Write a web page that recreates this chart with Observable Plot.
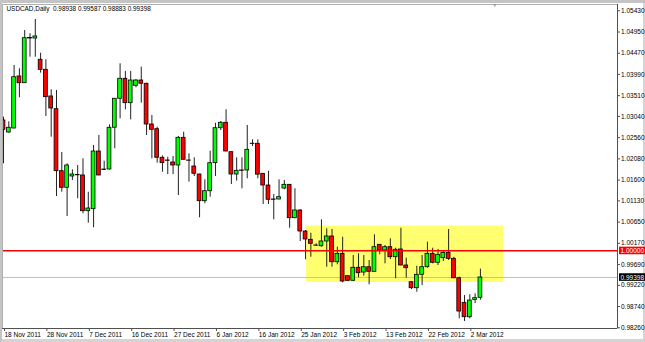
<!DOCTYPE html>
<html><head><meta charset="utf-8">
<script src="https://cdn.jsdelivr.net/npm/d3@7"></script>
<script src="https://cdn.jsdelivr.net/npm/@observablehq/plot@0.6"></script>
<style>
html,body{margin:0;padding:0;background:#fff;}
#chart svg{display:block;box-shadow: inset 2px 3px 0 #c4c4c4, inset -2px -3px 0 #d4d4d4;}
</style></head><body><div id="chart"></div>
<script>
const symbolName = "USDCAD,Daily";
const opens = [1.02949,1.02677,1.02768,1.03944,1.03792,1.04815,1.04803,1.04322,1.04095,1.03492,
1.03204,1.01802,1.01426,1.01682,1.01716,1.01705,1.00897,1.00942,1.02247,1.01840,
1.01840,1.02784,1.03440,1.03892,1.03340,1.03734,1.03853,1.03779,1.02858,1.02752,
1.02105,1.02044,1.01999,1.01931,1.02557,1.02044,1.01908,1.01727,1.01123,1.01349,
1.01983,1.02774,1.02897,1.02232,1.01727,1.01818,1.01818,1.02417,1.02422,1.01743,
1.01478,1.01162,1.01162,1.01410,1.01494,1.00739,1.00913,1.00438,1.00250,1.00121,
1.00105,1.00212,1.00325,0.99743,0.99933,0.99427,0.99323,0.99617,0.99510,0.99630,
0.99526,1.00137,1.00008,1.00083,0.99856,1.00031,0.99669,0.99291,0.99155,0.99458,
0.99630,0.99933,0.99730,0.99834,0.99956,0.99820,0.99381,0.98825,0.98499,0.98890,
0.98938];
const highs = [1.03023,1.02919,1.04193,1.04118,1.04984,1.04910,1.05233,1.04471,1.04322,1.03643,
1.03627,1.02225,1.01969,1.01833,1.01931,1.02082,1.01327,1.02383,1.02609,1.02028,
1.02851,1.03446,1.04231,1.04057,1.04057,1.03876,1.04154,1.03792,1.03062,1.02797,
1.02146,1.02118,1.02134,1.02587,1.02684,1.02195,1.02105,1.01734,1.01607,1.02254,
1.02887,1.02926,1.03191,1.02236,1.02105,1.02105,1.02836,1.02512,1.02512,1.01750,
1.01802,1.01275,1.01607,1.01591,1.01501,1.01404,1.00929,1.00460,1.00399,1.00160,
1.00702,1.00499,1.00483,1.00083,1.00309,0.99443,0.99895,0.99933,0.99895,0.99782,
1.00363,1.00144,1.00121,1.00273,1.00060,1.00512,0.99834,0.99307,0.99653,0.99895,
1.00196,1.00060,1.00031,0.99985,1.00483,0.99856,0.99404,0.98990,0.99006,0.99029,
0.99587];
const lows = [1.01969,1.02661,1.02757,1.03462,1.03786,1.04380,1.04380,1.04019,1.03039,1.02571,
1.01230,1.01327,1.00777,1.01591,1.01178,1.00838,1.00626,1.00522,1.01698,1.01818,
1.01833,1.02309,1.02987,1.03191,1.02964,1.03688,1.03340,1.02609,1.02082,1.01983,
1.01779,1.01724,1.01724,1.01252,1.02055,1.01553,1.01682,1.00748,1.01064,1.01214,
1.01682,1.02722,1.02241,1.01501,1.01576,1.01404,1.01630,1.02361,1.01630,1.01049,
1.01049,1.00702,1.01155,1.01381,1.00512,1.00725,1.00212,0.99798,0.99856,1.00099,
1.00083,0.99630,0.99630,0.99685,0.99277,0.99307,0.99307,0.99390,0.99427,0.99232,
0.99521,0.99911,0.99707,0.99804,0.99368,0.99662,0.99381,0.99126,0.99065,0.99216,
0.99608,0.99707,0.99669,0.99759,0.99782,0.99368,0.98463,0.98402,0.98463,0.98806,
0.98883];
const closes = [1.02738,1.02784,1.03928,1.03792,1.04810,1.04803,1.04849,1.04095,1.03476,1.03220,
1.01802,1.01426,1.01931,1.01727,1.01709,1.00897,1.00958,1.02247,1.01705,1.01829,
1.02784,1.03440,1.03892,1.03340,1.03853,1.03853,1.03779,1.02858,1.02738,1.02105,
1.01983,1.02037,1.01931,1.02557,1.02060,1.02039,1.01743,1.01123,1.01349,1.01983,
1.02774,1.02897,1.02247,1.01727,1.01811,1.01811,1.02286,1.02424,1.01724,1.01478,
1.01155,1.01155,1.01214,1.01494,1.00739,1.00913,1.00438,1.00257,1.00160,1.00117,
1.00212,1.00325,0.99743,0.99933,0.99307,0.99323,0.99617,0.99495,0.99630,0.99526,
1.00083,1.00008,1.00083,0.99856,1.00024,0.99669,0.99608,0.99155,0.99458,0.99630,
0.99933,0.99730,0.99911,0.99956,0.99820,0.99381,0.98628,0.98499,0.98877,0.98930,
0.99398];
const xTickBars = [0,8,16,24,32,40,48,56,64,72,80,88];
const xTickLabels = ["18 Nov 2011","28 Nov 2011","7 Dec 2011","16 Dec 2011","27 Dec 2011","6 Jan 2012","16 Jan 2012","25 Jan 2012","3 Feb 2012","13 Feb 2012","22 Feb 2012","2 Mar 2012"];
const yTicks = [1.05430,1.04950,1.04470,1.03990,1.03510,1.03040,1.02560,1.02080,1.01600,1.01130,1.00650,1.00170,0.99690,0.99220,0.98740,0.98260];
const levelLine = [1.00000];
const bidLine = [0.99398];
const zoneBars = [57.2, 94.4];
const zonePrices = [0.99284, 1.00558];
const shiftMarkerBar = [92.7];

const candles = opens.map((o, i) => ({i, open: o, high: highs[i], low: lows[i], close: closes[i]}));
const last = candles[candles.length - 1];
const header = `${symbolName}\u00a0 ${last.open.toFixed(5)} ${last.high.toFixed(5)} ${last.low.toFixed(5)} ${last.close.toFixed(5)}`;
const xDomain = [-0.19, 115.87];
const yDomain = [0.98244, 1.05572];
const font = "'Liberation Sans', Arial, sans-serif";

const chart = Plot.plot({
  width: 645, height: 342,
  marginLeft: 2, marginRight: 28, marginTop: 4, marginBottom: 14,
  style: {fontFamily: font, fontSize: "6.5px", background: "#fff", color: "#000"},
  x: {type: "linear", domain: xDomain, axis: null},
  y: {domain: yDomain, axis: null},
  marks: [
    Plot.rect([{x1: zoneBars[0], x2: zoneBars[1], y1: zonePrices[0], y2: zonePrices[1]}], {x1: "x1", x2: "x2", y1: "y1", y2: "y2", fill: "#ffff70"}),
    Plot.ruleY(bidLine, {stroke: "#c0c0c0", strokeWidth: 1}),
    Plot.ruleX(candles, {x: "i", y1: "low", y2: "high", stroke: "#222", strokeWidth: 1, clip: true}),
    Plot.rect(candles, {x1: d => d.i - 0.36, x2: d => d.i + 0.36, y1: "open", y2: "close",
      fill: d => d.close >= d.open ? "#00ff00" : "#ff0000", stroke: "#000", strokeWidth: 0.8, clip: true}),
    Plot.ruleY(levelLine, {stroke: "#ff0000", strokeWidth: 1.5}),
    Plot.frame({stroke: "#b0b0b0"}),
    Plot.ruleX([xDomain[1]], {stroke: "#505050"}),
    Plot.ruleY([yDomain[0]], {stroke: "#505050"}),
    Plot.axisY({anchor: "right", ticks: yTicks, tickFormat: d => d.toFixed(5), tickSize: 2, tickPadding: 1.5, fontSize: 6.5, stroke: "#505050"}),
    Plot.axisX({ticks: xTickBars, tickFormat: d => xTickLabels[xTickBars.indexOf(d)], tickSize: 3, tickPadding: 1, textAnchor: "start", dx: 1, fontSize: 6.5, stroke: "#505050"}),
    Plot.text(levelLine, {y: d => d, text: d => d.toFixed(5), frameAnchor: "right", textAnchor: "start", dx: 3, fill: "#fff", fontSize: 6.5}),
    Plot.text(bidLine, {y: d => d, text: d => d.toFixed(5), frameAnchor: "right", textAnchor: "start", dx: 3, fill: "#fff", fontSize: 6.5}),
    Plot.text([header], {text: d => d, frameAnchor: "top-left", dx: 4, dy: 1.5, fontSize: 6.4, fill: "#000"}),
    Plot.text(shiftMarkerBar, {x: d => d, text: () => "\u25BC", frameAnchor: "top", dy: -1, fontSize: 5, fill: "#999"})
  ]
});
document.getElementById("chart").appendChild(chart);

const svgEl = chart.tagName.toLowerCase() === "svg" ? chart : chart.querySelector("svg");
d3.select(svgEl).selectAll("text").each(function() {
  const t = this.textContent;
  let bg = null;
  if (t === levelLine[0].toFixed(5)) bg = "#ff0000";
  else if (t === bidLine[0].toFixed(5)) bg = "#000000";
  if (!bg) return;
  const b = this.getBBox();
  const r = document.createElementNS("http://www.w3.org/2000/svg", "rect");
  r.setAttribute("x", b.x - 1.5);
  r.setAttribute("y", b.y - 0.3);
  r.setAttribute("width", b.width + 4);
  r.setAttribute("height", b.height + 0.6);
  r.setAttribute("fill", bg);
  const tr = this.getAttribute("transform");
  if (tr) r.setAttribute("transform", tr);
  this.parentNode.insertBefore(r, this);
});
</script></body></html>
